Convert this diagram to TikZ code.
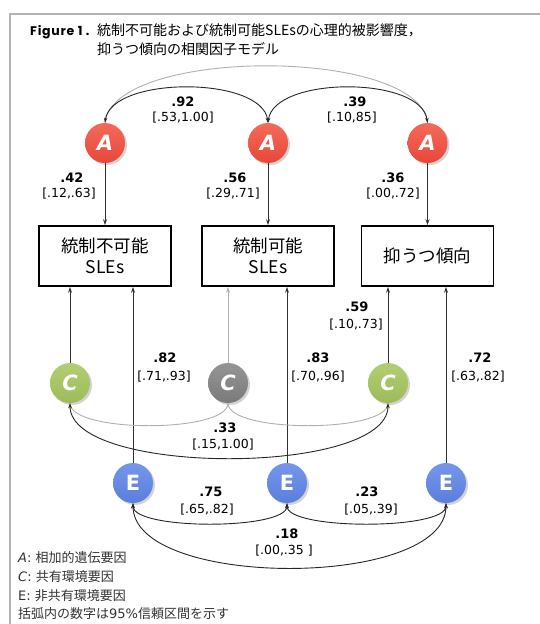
\documentclass[tikz,border=0pt]{standalone}
\usepackage{fontspec}
\setmainfont{DejaVu Sans}
\newfontfamily\jp{Noto Sans CJK JP}
\newfontfamily\lettf{DejaVu Sans}
\newfontfamily\figf[LetterSpace=6]{Poppins}
\usetikzlibrary{arrows.meta,shadows}
\definecolor{aRed}{HTML}{E8473A}
\definecolor{aRedL}{HTML}{F46A5A}
\definecolor{cGreen}{HTML}{9CBB58}
\definecolor{cGreenL}{HTML}{B2CE72}
\definecolor{cGray}{HTML}{7A7A7A}
\definecolor{cGrayL}{HTML}{959595}
\definecolor{eBlue}{HTML}{5A7EDC}
\definecolor{eBlueL}{HTML}{7596EA}
\definecolor{frameGray}{HTML}{B4B4B4}
\definecolor{lightLine}{HTML}{B0B0B0}
\tikzset{
  ball/.style={circle, minimum size=40pt, inner sep=0pt, draw=none,
     drop shadow={opacity=0.35, shadow xshift=2pt, shadow yshift=-2pt},
     text=white, font=\lettf\bfseries\fontsize{21}{21}\selectfont},
  aball/.style={ball, top color=aRedL, bottom color=aRed, font=\lettf\bfseries\itshape\fontsize{21}{21}\selectfont},
  cball/.style={ball, top color=cGreenL, bottom color=cGreen, font=\lettf\bfseries\itshape\fontsize{21}{21}\selectfont},
  gball/.style={ball, top color=cGrayL, bottom color=cGray, font=\lettf\bfseries\itshape\fontsize{21}{21}\selectfont},
  eball/.style={ball, top color=eBlueL, bottom color=eBlue},
  varbox/.style={draw=black, line width=1.6pt, minimum width=132pt, minimum height=60pt,
     inner sep=0pt, align=center, font=\jp\fontsize{17.5}{21}\selectfont},
  coef/.style={inner sep=0pt, font=\bfseries\fontsize{13}{13}\selectfont},
  ci/.style={inner sep=0pt, font=\fontsize{12.5}{13}\selectfont},
  arr/.style={-{Stealth[length=6pt,width=4pt]}, line width=0.9pt, draw=black!80},
  dbl/.style={{Stealth[length=5pt,width=3.5pt]}-{Stealth[length=5pt,width=3.5pt]}, line width=0.9pt, draw=black!85},
  grayarc/.style={line width=0.9pt, draw=lightLine},
  legend/.style={anchor=west, inner sep=0pt, font=\fontsize{13}{13}\selectfont, text=black!80},
}
\begin{document}
\begin{tikzpicture}[x=1pt,y=-1pt]
\useasboundingbox (0,0) rectangle (540,624);
% frame
\draw[frameGray, line width=1.5pt] (10,624) -- (10,14) -- (540,14);
% title
\node[anchor=west, inner sep=0pt, font=\figf\bfseries\fontsize{12.5}{12.5}\selectfont] (fig) at (30,32) {Figure 1 .};
\node[anchor=north west, inner sep=0pt, align=left, font=\jp\fontsize{14}{19}\selectfont] (title) at (97,23)
  {統制不可能および統制可能SLEsの心理的被影響度，\\抑うつ傾向の相関因子モデル};
% boxes
\node[varbox] (B1) at (105,256) {統制不可能\\SLEs};
\node[varbox] (B2) at (268,256) {統制可能\\SLEs};
\node[varbox] (B3) at (427.5,256) {抑うつ傾向};
% A nodes
\node[aball] (A1) at (105,143) {A};
\node[aball] (A2) at (268,143) {A};
\node[aball] (A3) at (427.5,143) {A};
% C nodes
\node[cball] (C1) at (70,383) {C};
\node[gball] (C2) at (228,383) {C};
\node[cball] (C3) at (388,383) {C};
% E nodes
\node[eball] (E1) at (133,483) {E};
\node[eball] (E2) at (287,483) {E};
\node[eball] (E3) at (446,483) {E};
% A arcs
\draw[grayarc] (A1.north) .. controls +(8,-76) and +(-8,-76) .. (A3.north);
\draw[dbl] (A1.north) .. controls +(6,-47) and +(-6,-47) .. (A2.north);
\draw[dbl] (A2.north) .. controls +(6,-47) and +(-6,-47) .. (A3.north);
% A paths
\draw[arr] (A1) -- (B1);
\draw[arr] (A2) -- (B2);
\draw[arr] (A3) -- (B3);
% C paths
\draw[arr] (C1.north) -- (C1.north |- B1.south);
\draw[-{Stealth[length=6pt,width=4pt]}, line width=0.9pt, draw=lightLine] (C2.north) -- (C2.north |- B2.south);
\draw[arr] (C3.north) -- (C3.north |- B3.south);
% E paths
\draw[arr] (E1.north) -- (E1.north |- B1.south);
\draw[arr] (E2.north) -- (E2.north |- B2.south);
\draw[arr] (E3.north) -- (E3.north |- B3.south);
% C arcs
\draw[grayarc] (C2.south) .. controls +(0,30) and +(0,30) .. (C1.south);
\draw[grayarc] (C2.south) .. controls +(0,30) and +(0,30) .. (C3.south);
\draw[dbl] (C1.south) .. controls +(0,73) and +(0,73) .. (C3.south);
% E arcs
\draw[dbl] (E1.south) .. controls +(0,27) and +(0,27) .. (E2.south);
\draw[dbl] (E2.south) .. controls +(0,27) and +(0,27) .. (E3.south);
\draw[dbl] (E1.south) .. controls +(0,86) and +(0,86) .. (E3.south);
% labels
\node[coef] (l92) at (183,102) {.92};
\node[ci] (c92) at (183,118) {[.53,1.00]};
\node[coef] (l39) at (355,102) {.39};
\node[ci] (c39) at (352,118) {[.10,85]};
\node[coef] (l42) at (72,178) {.42};
\node[ci] (c42) at (69,194) {[.12,.63]};
\node[coef] (l56) at (235,178) {.56};
\node[ci] (c56) at (233,194) {[.29,.71]};
\node[coef] (l36) at (393,178) {.36};
\node[ci] (c36) at (393,194) {[.00,.72]};
\node[coef] (l59) at (357,307) {.59};
\node[ci] (c59) at (356,325) {[.10,.73]};
\node[coef] (l82) at (165,358) {.82};
\node[ci] (c82) at (164,377) {[.71,.93]};
\node[coef] (l83) at (318,358) {.83};
\node[ci] (c83) at (318,377) {[.70,.96]};
\node[coef] (l72) at (480,358) {.72};
\node[ci] (c72) at (478,377) {[.63,.82]};
\node[coef] (l33) at (225,428) {.33};
\node[ci] (c33) at (223,445) {[.15,1.00]};
\node[coef] (l75) at (211,492) {.75};
\node[ci] (c75) at (207,510) {[.65,.82]};
\node[coef] (l23) at (367,492) {.23};
\node[ci] (c23) at (371,510) {[.05,.39]};
\node[coef] (l18) at (287,534) {.18};
\node[ci] (c18) at (284,551) {[.00,.35 ]};
% legend
\node[legend] (lgA) at (18,558) {\textit{A}: {\jp 相加的遺伝要因}};
\node[legend] (lgC) at (18,577) {\textit{C}: {\jp 共有環境要因}};
\node[legend] (lgE) at (18,596) {E: {\jp 非共有環境要因}};
\node[legend] (lgN) at (18,614) {{\jp 括弧内の数字は}95\%{\jp 信頼区間を示す}};
\end{tikzpicture}
\end{document}
